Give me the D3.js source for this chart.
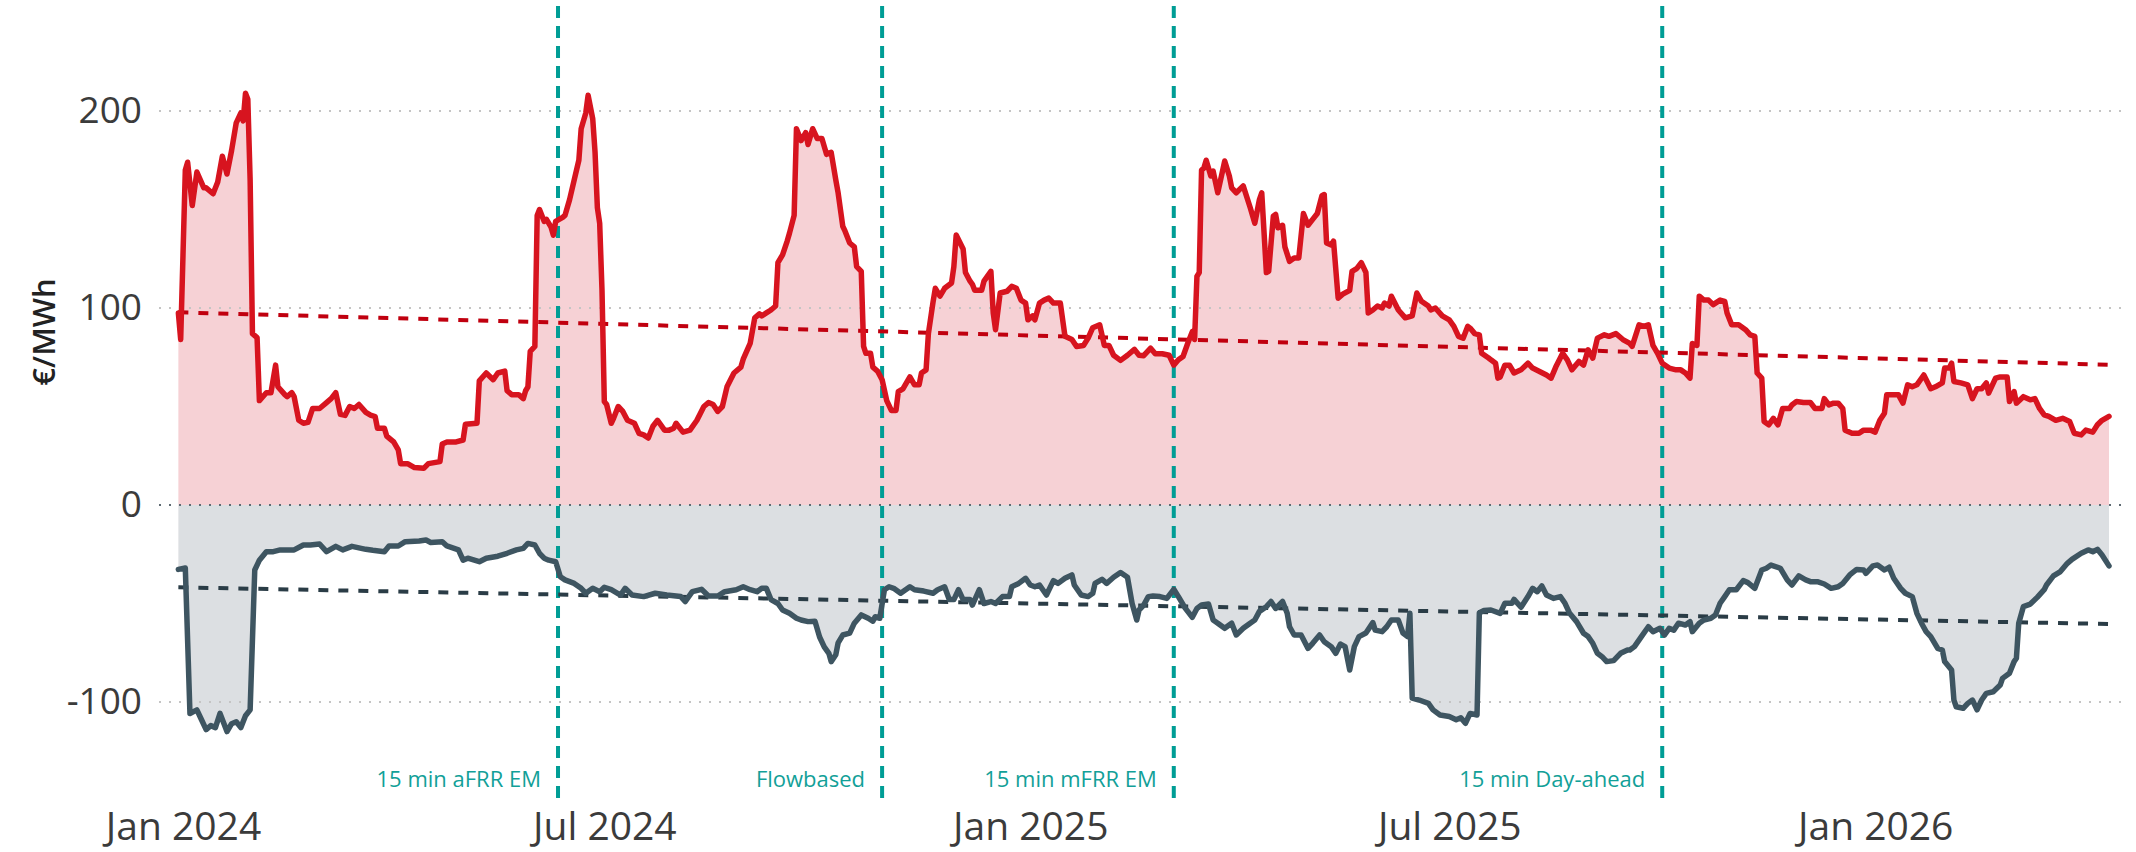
<!DOCTYPE html>
<html>
<head>
<meta charset="utf-8">
<script src="https://cdn.jsdelivr.net/npm/d3@7"></script>
<style>
  body { margin: 0; background: #fff; }
  svg { display: block; font-family: "Open Sans", sans-serif; }
</style>
</head>
<body>
<div id="chart"></div>
<script>
// days counted from 2024-01-01, values in €/MWh
const startDate = "2024-01-01";
const endDate = "2026-04-12";

const upDays = [-2,-1,1,2,4,6,9,10,13,15,17,19,21,23,25,26,27,28,29,30,32,33,36,38,40,41,44,45,47,48,50,52,54,56,59,62,64,66,68,70,72,74,76,79,81,83,84,87,88,91,93,94,97,100,104,106,111,112,114,118,121,122,127,128,131,134,136,139,140,142,145,147,148,149,150,152,153,154,156,157,159,160,161,164,165,167,169,171,172,174,175,177,178,179,180,181,182,183,185,186,188,190,192,195,197,199,201,203,205,208,210,212,213,216,219,222,225,227,229,231,233,235,238,241,242,245,247,249,250,252,254,256,257,259,261,262,264,265,267,269,270,272,274,
  276,278,280,282,283,285,286,288,290,291,293,294,295,297,298,300,302,304,306,308,309,311,314,316,318,319,321,322,324,325,327,329,332,333,334,337,338,340,341,342,345,346,349,350,351,353,356,358,360,362,364,365,367,368,370,372,374,376,379,381,384,386,389,391,393,396,398,400,402,405,408,411,413,415,418,420,423,426,428,430,432,434,436,437,438,439,440,441,442,444,445,447,450,452,453,455,458,461,463,465,466,468,469,471,472,473,475,476,478,480,482,484,486,488,490,492,493,494,496,497,499,501,504,505,507,509,511,512,514,516,518,519,521,522,525,528,531,533,535,538,539,541,544,
  547,549,551,553,555,556,558,560,561,564,565,567,568,569,571,573,575,578,581,583,586,589,591,593,596,598,600,603,605,607,609,611,614,616,619,622,625,626,629,631,633,635,637,639,642,645,647,649,651,652,654,655,657,659,661,664,666,667,669,672,675,677,679,680,682,683,685,687,689,691,694,695,697,700,703,705,708,709,711,713,715,717,718,721,724,726,729,731,733,735,736,739,741,743,745,747,749,752,755,757,760,761,763,764,765,768,771,773,775,777,779,780,783,785,788,789,791,792,795,798,800,802,804,806,809,812,815,817,820,822,825,827,829,832];
const upPrice = [97.5,84,170,174,152,169,161,161,158,164,177,168,180,194,199,195,209,206,165,87,85,53,57,57,71,60,56,55,57,55,43,41.5,42,49,49,52,54,57,46,45.5,50,49,51,47,45.6,44.9,39,39,35,32,28,21,21,19,18.6,21,22,31,32,32,33,41,41.5,63,67,63.6,67,68,58,56,56,54,58,60,78,80.5,147,150,144,145,141,137,144,146,147,155,165,175,191,199,208,196,179,151,143,109,52.5,51,41.5,44,50,47.5,43,41.5,36.4,35.6,34,40,43,38,38,39,41.5,37,38,43,50,52,51,47.5,50,60,67,70,74,82,95,97,96,97.5,99,101,123,127,134,138,147,191,185,189,183,191,186,
  186,178,179,165,158.5,141.5,139,133,131,121,118.6,80.5,77,77,70,68,63.6,53,48,48,57.6,59,65,61,61,67,68.6,87,103,110,106,110,112.7,121,137,130,118,113.6,112,109,109,113.6,118.6,97.5,89,107.6,108.5,111,110,104,102.5,94,96,94,102.5,104,105,102.5,102.5,85.6,84,80.5,81,84.7,90,91.5,81,81,76,73.4,76,79,76,75.8,79.6,76.8,76.8,76,71,73.7,75.4,82,88,84,116,118,170,171,175,167,169.5,158.5,174.6,167,161,158.5,162,151,143,155,158.5,118,118.6,146.6,147.5,140.7,142,131,123.7,125.4,125.4,148,142,145,148,157,157.6,133,132,134,105,107,109,118.6,120,123,118,97.5,99,101,100,102.5,101,106,99,95,96,107.6,103.4,101,99,100,96,
  94,90.7,85.6,84.7,90.7,89.8,87,86.4,77,74.6,73.7,72,64.4,65,71,71,67,68.6,72,69.5,67.8,66,64.4,70,77,73.7,68.6,72.9,71,78.8,74.6,84.7,86.4,85.6,87,84,82,80.5,91.5,90.7,91.5,81,77,72,69.5,68.6,68.6,67,64.4,82,81,106,104,104,101.7,104,103.4,97.5,91.5,91.5,89,86.4,85.6,67,64.4,42.4,40.7,44,40.7,49,49,50.8,52.5,52,52,49,49,54,50.8,51.7,51.7,49,38,36.4,36.4,38,38,37,43,46.6,56,56,56,51.7,61,60,61,66,59,60,62,69.5,69.5,72,62.7,62,61,54,59,59,62,56.8,64.4,65,65,52.5,57.6,51.7,55,53.4,54,49,45.8,45,43,44,42.4,36.4,35.6,38,37,40.7,43,45];

const downDays = [-2,1,3,6,8,10,12,14,16,19,21,23,25,27,29,31,33,36,39,42,45,48,52,55,59,62,66,69,73,79,82,87,89,93,96,102,105,107,112,114,119,121,123,128,131,136,140,144,147,149,152,154,156,158,161,163,165,169,172,174,177,180,182,185,189,191,194,199,204,209,215,217,220,224,227,231,234,239,242,245,248,250,252,254,257,259,262,265,267,270,
  273,275,277,279,280,282,283,285,288,290,293,296,298,299,301,303,305,307,310,314,316,320,324,326,329,331,333,335,337,340,341,344,346,349,351,354,357,358,361,364,366,368,370,373,376,378,381,384,385,388,391,393,394,397,399,402,405,408,410,412,413,415,417,419,422,425,428,430,433,436,438,440,443,445,447,450,453,455,458,461,463,465,468,470,472,475,477,478,480,483,486,488,491,493,496,498,500,502,504,506,508,511,514,515,518,520,522,525,527,529,530,531,534,538,540,543,
  547,550,552,554,556,559,560,562,565,569,571,574,575,578,581,583,585,587,589,592,595,597,599,602,605,607,609,611,613,615,618,621,624,625,627,630,633,635,638,640,642,644,646,649,651,652,655,657,660,662,664,666,668,671,674,676,679,682,684,686,690,693,695,698,701,703,706,709,712,715,717,720,723,726,727,730,732,735,737,739,742,744,747,749,751,753,755,758,760,761,764,765,766,769,771,773,775,777,779,782,785,786,789,791,792,793,795,798,801,804,805,808,811,814,816,820,823,825,827,829,832];
const downPrice = [-32.7,-32,-105.8,-104,-109,-114,-112,-113,-105.8,-115,-111,-110,-113,-107,-104,-33,-28,-23.7,-23.7,-22.8,-22.8,-22.8,-20.3,-20.3,-19.8,-23.7,-21,-22.8,-21,-22.5,-23,-23.7,-20.8,-20.8,-18.6,-18.3,-17.8,-19,-18.6,-20.8,-22.8,-28,-27,-28.8,-27,-26,-24.5,-22.8,-22,-19.5,-20.3,-24.5,-27,-28,-28.8,-36.4,-38,-39.8,-42.3,-44.8,-42.3,-44,-41.8,-43,-45.7,-42.3,-45.7,-46.5,-44.8,-45.7,-46.5,-49,-44,-42.8,-46.2,-46.2,-44,-43,-41.5,-43,-44,-42.3,-42.3,-48,-50,-53.3,-55,-57.5,-58.4,-59.2,
  -59,-67,-72,-75.3,-79.5,-76,-70,-66,-65,-60,-55.8,-57.5,-59,-56.7,-57.5,-43,-41.5,-42.3,-44.8,-41.5,-43,-43.7,-44.8,-43,-41.5,-48,-48,-43,-48,-48,-50.8,-43,-50,-49,-50,-46.5,-46.5,-41.5,-39.8,-37.2,-40.6,-41.5,-40.6,-45.7,-38.4,-39.8,-37.2,-35.5,-40.6,-45.7,-46.5,-44.8,-39.8,-37.7,-39.8,-36.7,-34.3,-36.7,-50,-58.4,-53.3,-50.8,-46.5,-46.2,-46.5,-47.4,-42.8,-46.5,-52.5,-57,-52.5,-50.8,-50.3,-58.4,-60,-62.6,-60,-66,-62.6,-60,-58.4,-54,-51.6,-49,-52.5,-49,-55,-61.8,-66,-66,-72.8,-70.2,-66,-69.4,-71.9,-75.3,-70.6,-71.9,-83.8,-71.9,-66.8,-65,-59.7,-63.5,-64.3,-61.8,-58.4,-58.4,-65,-66.8,-55,-98,-99,-100.7,-104,-106.6,
  -107.4,-109,-108,-110.8,-105.8,-106.6,-54.7,-53.6,-53.3,-55,-49.9,-49.9,-47.9,-51.9,-46.5,-42.3,-44,-41.1,-45.7,-47.4,-46.5,-49.9,-55,-59.2,-65.1,-66.8,-70.2,-75.3,-77,-79.5,-79,-75.3,-73.6,-73.6,-71.9,-66.8,-61.8,-64.3,-62.6,-66,-62.6,-63.5,-60,-60.9,-59.2,-64.3,-60,-58.4,-57.5,-55.8,-49.9,-46.5,-43,-43,-38.4,-39.4,-42.3,-33,-32.1,-30.5,-32.1,-38,-40.6,-36,-38,-38.9,-38.9,-40.1,-42.3,-41.5,-39.8,-35.5,-32.7,-33,-34.7,-30.9,-30.5,-33,-31.6,-37.2,-42.3,-44.8,-46.5,-55,-60,-64.3,-66.8,-72.8,-73.6,-79.5,-83.8,-99,-102.4,-103.2,-100.7,-99,-104,-99,-95.6,-94.8,-91.4,-88,-85.4,-79.5,-77.8,-60,-51.6,-50.3,-46.9,-43,-40.6,-36,-33.8,-29.6,-27.6,-24.5,-22.8,-23.7,-22.5,-25.4,-30.9];

// linear trend, value at first and last day
const upTrend = [97.8, 71.2];
const downTrend = [-41.8, -60.4];

const eventDates = ["2024-06-11", "2024-10-29", "2025-03-04", "2025-10-01"];
const eventLabels = ["15 min aFRR EM", "Flowbased", "15 min mFRR EM", "15 min Day-ahead"];

const xTicks = ["2024-01-01", "2024-07-01", "2025-01-01", "2025-07-01", "2026-01-01"];
const yTicks = [-100, 0, 100, 200];

const w = 2136;
const h = 852;

const parse = d3.utcParse("%Y-%m-%d");
const day0 = parse(startDate);
const toDate = (d) => d3.utcDay.offset(day0, d);

const up = upDays.map((d, i) => ({ date: toDate(d), value: upPrice[i] }));
const down = downDays.map((d, i) => ({ date: toDate(d), value: downPrice[i] }));

const xScale = d3.scaleUtc()
  .domain([day0, parse(endDate)])
  .range([183, 2109]);

const yScale = d3.scaleLinear()
  .domain([-150, 250])
  .range([800.5, 12.5]);

const svg = d3.select("#chart")
  .append("svg")
  .attr("width", w)
  .attr("height", h);

const area = d3.area()
  .x((d) => xScale(d.date))
  .y0(yScale(0))
  .y1((d) => yScale(d.value));

const line = d3.line()
  .x((d) => xScale(d.date))
  .y((d) => yScale(d.value));

svg.append("path").datum(up).attr("d", area).attr("fill", "#f6d1d5");
svg.append("path").datum(down).attr("d", area).attr("fill", "#dcdfe2");

// dotted grid
svg.append("g")
  .selectAll("line")
  .data(yTicks)
  .enter()
  .append("line")
  .attr("x1", 159)
  .attr("x2", 2124)
  .attr("y1", (d) => yScale(d))
  .attr("y2", (d) => yScale(d))
  .attr("stroke", (d) => d === 0 ? "#5f6b73" : "#c4c4c4")
  .attr("stroke-width", 2.2)
  .attr("stroke-dasharray", "2,8");

// event markers
const ev = svg.append("g");
ev.selectAll("line")
  .data(eventDates)
  .enter()
  .append("line")
  .attr("x1", (d) => xScale(parse(d)))
  .attr("x2", (d) => xScale(parse(d)))
  .attr("y1", 6)
  .attr("y2", 798)
  .attr("stroke", "#009d95")
  .attr("stroke-width", 4)
  .attr("stroke-dasharray", "12,8");
ev.selectAll("text")
  .data(eventDates)
  .enter()
  .append("text")
  .attr("x", (d) => xScale(parse(d)) - 17)
  .attr("y", 787)
  .attr("text-anchor", "end")
  .style("font-size", "22px")
  .style("fill", "#12a098")
  .text((d, i) => eventLabels[i]);

// trend lines
const first = up[0].date;
const last = up[up.length - 1].date;
svg.append("line")
  .attr("x1", xScale(first)).attr("x2", xScale(last))
  .attr("y1", yScale(upTrend[0])).attr("y2", yScale(upTrend[1]))
  .attr("stroke", "#c0000f").attr("stroke-width", 4).attr("stroke-dasharray", "10,10");
svg.append("line")
  .attr("x1", xScale(first)).attr("x2", xScale(last))
  .attr("y1", yScale(downTrend[0])).attr("y2", yScale(downTrend[1]))
  .attr("stroke", "#2a3c46").attr("stroke-width", 4).attr("stroke-dasharray", "10,10");

svg.append("path").datum(down).attr("d", line)
  .attr("fill", "none").attr("stroke", "#3e5561").attr("stroke-width", 5.5)
  .attr("stroke-linejoin", "round").attr("stroke-linecap", "round");
svg.append("path").datum(up).attr("d", line)
  .attr("fill", "none").attr("stroke", "#d7141f").attr("stroke-width", 5.5)
  .attr("stroke-linejoin", "round").attr("stroke-linecap", "round");

// axes
const xAxis = d3.axisBottom(xScale)
  .tickValues(xTicks.map(parse))
  .tickFormat(d3.utcFormat("%b %Y"))
  .tickSize(0);
svg.append("g")
  .attr("transform", "translate(0, 800)")
  .call(xAxis)
  .call((g) => g.select(".domain").remove())
  .selectAll("text")
  .attr("y", 40)
  .attr("dy", 0)
  .style("font-family", "Open Sans")
  .style("font-size", "39px")
  .style("fill", "#3b3b3b");

const yAxis = d3.axisLeft(yScale)
  .tickValues(yTicks)
  .tickFormat((d) => String(d))
  .tickSize(0)
  .tickPadding(17);
svg.append("g")
  .attr("transform", "translate(159, 0)")
  .call(yAxis)
  .call((g) => g.select(".domain").remove())
  .selectAll("text")
  .style("font-family", "Open Sans")
  .style("font-size", "37px")
  .style("fill", "#3b3b3b");

svg.append("text")
  .attr("transform", "translate(55, 332) rotate(-90)")
  .attr("text-anchor", "middle")
  .style("font-size", "31px")
  .style("font-weight", 600)
  .style("fill", "#222")
  .text("€/MWh");
</script>
</body>
</html>
